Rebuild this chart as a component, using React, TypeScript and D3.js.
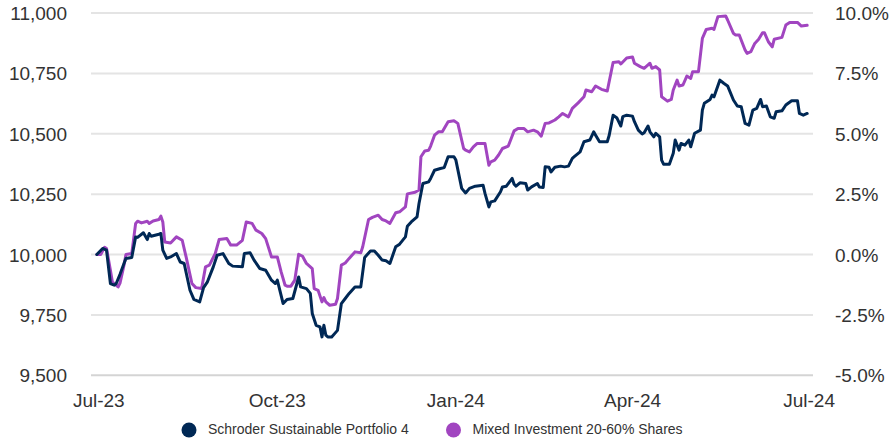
import React from "react";
import * as d3 from "d3";

const seriesNames = ["Schroder Sustainable Portfolio 4", "Mixed Investment 20-60% Shares"];
const leftTicks = [9500, 9750, 10000, 10250, 10500, 10750, 11000];
const rightTicks = [-5, -2.5, 0, 2.5, 5, 7.5, 10];
const xTickDates = ["2023-07-01", "2023-10-01", "2024-01-01", "2024-04-01", "2024-07-01"];

const schroder: [string, number][] = [
  ["2023-06-30", 10000], ["2023-07-03", 10025], ["2023-07-05", 10018], ["2023-07-07", 9880],
  ["2023-07-09", 9873], ["2023-07-10", 9880], ["2023-07-12", 9919], ["2023-07-14", 9963],
  ["2023-07-15", 9984], ["2023-07-18", 9988], ["2023-07-20", 10073], ["2023-07-21", 10071],
  ["2023-07-24", 10090], ["2023-07-26", 10062], ["2023-07-27", 10087], ["2023-07-28", 10076],
  ["2023-08-01", 10084], ["2023-08-02", 10087], ["2023-08-03", 10018], ["2023-08-05", 9984],
  ["2023-08-07", 9990], ["2023-08-10", 10004], ["2023-08-12", 9969], ["2023-08-14", 9963],
  ["2023-08-17", 9852], ["2023-08-19", 9814], ["2023-08-22", 9804], ["2023-08-24", 9863],
  ["2023-08-26", 9887], ["2023-08-29", 9949], ["2023-08-31", 9997], ["2023-09-03", 10004],
  ["2023-09-06", 9963], ["2023-09-08", 9952], ["2023-09-13", 9949], ["2023-09-14", 10004],
  ["2023-09-17", 10007], ["2023-09-19", 9977], ["2023-09-22", 9942], ["2023-09-25", 9935],
  ["2023-09-28", 9894], ["2023-09-30", 9880], ["2023-10-01", 9894], ["2023-10-04", 9797],
  ["2023-10-06", 9814], ["2023-10-09", 9818], ["2023-10-12", 9907], ["2023-10-13", 9866],
  ["2023-10-16", 9859], ["2023-10-18", 9839], ["2023-10-19", 9756], ["2023-10-21", 9707],
  ["2023-10-23", 9700], ["2023-10-24", 9659], ["2023-10-25", 9707], ["2023-10-26", 9666],
  ["2023-10-27", 9659], ["2023-10-29", 9659], ["2023-11-01", 9686], ["2023-11-03", 9797],
  ["2023-11-05", 9818], ["2023-11-07", 9839], ["2023-11-10", 9866], ["2023-11-13", 9866],
  ["2023-11-15", 9988], ["2023-11-18", 10015], ["2023-11-20", 10015], ["2023-11-22", 9997],
  ["2023-11-24", 9977], ["2023-11-26", 9974], ["2023-11-28", 9963], ["2023-12-01", 10032],
  ["2023-12-03", 10043], ["2023-12-06", 10073], ["2023-12-07", 10117], ["2023-12-09", 10135],
  ["2023-12-12", 10156], ["2023-12-13", 10211], ["2023-12-15", 10294], ["2023-12-18", 10301],
  ["2023-12-19", 10315], ["2023-12-21", 10349], ["2023-12-24", 10356], ["2023-12-26", 10360],
  ["2023-12-28", 10405], ["2023-12-31", 10405], ["2024-01-01", 10391], ["2024-01-04", 10274],
  ["2024-01-06", 10255], ["2024-01-08", 10274], ["2024-01-11", 10283], ["2024-01-15", 10287],
  ["2024-01-16", 10253], ["2024-01-18", 10197], ["2024-01-19", 10218], ["2024-01-21", 10222],
  ["2024-01-24", 10260], ["2024-01-25", 10280], ["2024-01-27", 10283], ["2024-01-30", 10315],
  ["2024-01-31", 10291], ["2024-02-01", 10283], ["2024-02-03", 10297], ["2024-02-06", 10294],
  ["2024-02-07", 10267], ["2024-02-09", 10280], ["2024-02-12", 10294], ["2024-02-13", 10280],
  ["2024-02-15", 10278], ["2024-02-16", 10363], ["2024-02-18", 10361], ["2024-02-19", 10342],
  ["2024-02-21", 10361], ["2024-02-24", 10366], ["2024-02-26", 10363], ["2024-02-28", 10366],
  ["2024-03-01", 10398], ["2024-03-02", 10405], ["2024-03-05", 10425], ["2024-03-07", 10467],
  ["2024-03-10", 10474], ["2024-03-12", 10508], ["2024-03-13", 10494], ["2024-03-15", 10467],
  ["2024-03-19", 10467], ["2024-03-20", 10494], ["2024-03-22", 10577], ["2024-03-24", 10565],
  ["2024-03-26", 10532], ["2024-03-27", 10571], ["2024-03-29", 10577], ["2024-04-01", 10573],
  ["2024-04-02", 10550], ["2024-04-04", 10515], ["2024-04-06", 10499], ["2024-04-07", 10504],
  ["2024-04-09", 10532], ["2024-04-10", 10508], ["2024-04-12", 10487], ["2024-04-13", 10502],
  ["2024-04-15", 10487], ["2024-04-16", 10391], ["2024-04-17", 10374], ["2024-04-20", 10374],
  ["2024-04-22", 10419], ["2024-04-23", 10474], ["2024-04-25", 10432], ["2024-04-26", 10460],
  ["2024-04-28", 10453], ["2024-04-30", 10474], ["2024-05-01", 10446], ["2024-05-03", 10502],
  ["2024-05-06", 10515], ["2024-05-07", 10598], ["2024-05-08", 10626], ["2024-05-11", 10642],
  ["2024-05-12", 10660], ["2024-05-13", 10653], ["2024-05-16", 10722], ["2024-05-18", 10709],
  ["2024-05-20", 10698], ["2024-05-23", 10640], ["2024-05-25", 10615], ["2024-05-27", 10612],
  ["2024-05-29", 10543], ["2024-05-31", 10536], ["2024-06-02", 10598], ["2024-06-04", 10605],
  ["2024-06-06", 10642], ["2024-06-07", 10612], ["2024-06-09", 10615], ["2024-06-11", 10570],
  ["2024-06-13", 10564], ["2024-06-14", 10591], ["2024-06-17", 10595], ["2024-06-19", 10619],
  ["2024-06-22", 10637], ["2024-06-25", 10637], ["2024-06-26", 10584], ["2024-06-28", 10577],
  ["2024-06-30", 10584],
];

const mixed: [string, number][] = [
  ["2023-06-30", 10000], ["2023-07-02", 10000], ["2023-07-04", 10030], ["2023-07-05", 10025],
  ["2023-07-07", 9935], ["2023-07-08", 9887], ["2023-07-09", 9880], ["2023-07-11", 9866],
  ["2023-07-12", 9883], ["2023-07-14", 9956], ["2023-07-15", 10000], ["2023-07-18", 10004],
  ["2023-07-20", 10129], ["2023-07-21", 10138], ["2023-07-23", 10131], ["2023-07-26", 10138],
  ["2023-07-27", 10129], ["2023-07-29", 10139], ["2023-08-01", 10145], ["2023-08-02", 10159],
  ["2023-08-03", 10135], ["2023-08-04", 10052], ["2023-08-07", 10048], ["2023-08-10", 10073],
  ["2023-08-13", 10059], ["2023-08-15", 9990], ["2023-08-18", 9880], ["2023-08-20", 9863],
  ["2023-08-23", 9859], ["2023-08-25", 9949], ["2023-08-27", 9956], ["2023-08-30", 10004],
  ["2023-09-01", 10062], ["2023-09-05", 10066], ["2023-09-07", 10039], ["2023-09-10", 10039],
  ["2023-09-13", 10059], ["2023-09-15", 10135], ["2023-09-18", 10129], ["2023-09-20", 10101],
  ["2023-09-23", 10087], ["2023-09-25", 10066], ["2023-09-28", 9990], ["2023-10-01", 9990],
  ["2023-10-03", 9927], ["2023-10-05", 9873], ["2023-10-06", 9869], ["2023-10-08", 9869],
  ["2023-10-10", 9894], ["2023-10-12", 10001], ["2023-10-14", 9993], ["2023-10-16", 9963],
  ["2023-10-19", 9942], ["2023-10-20", 9859], ["2023-10-22", 9852], ["2023-10-24", 9804],
  ["2023-10-25", 9822], ["2023-10-26", 9804], ["2023-10-28", 9790], ["2023-10-31", 9794],
  ["2023-11-01", 9818], ["2023-11-03", 9956], ["2023-11-05", 9965], ["2023-11-07", 9984],
  ["2023-11-10", 10011], ["2023-11-13", 10007], ["2023-11-14", 10032], ["2023-11-17", 10145],
  ["2023-11-19", 10154], ["2023-11-22", 10163], ["2023-11-24", 10145], ["2023-11-26", 10139],
  ["2023-11-28", 10129], ["2023-12-01", 10173], ["2023-12-03", 10177], ["2023-12-06", 10197],
  ["2023-12-07", 10251], ["2023-12-11", 10258], ["2023-12-13", 10267], ["2023-12-14", 10405],
  ["2023-12-16", 10429], ["2023-12-18", 10432], ["2023-12-19", 10449], ["2023-12-21", 10494],
  ["2023-12-23", 10508], ["2023-12-25", 10508], ["2023-12-28", 10550], ["2023-12-31", 10554],
  ["2024-01-02", 10543], ["2024-01-05", 10439], ["2024-01-06", 10432], ["2024-01-08", 10425],
  ["2024-01-10", 10446], ["2024-01-12", 10460], ["2024-01-16", 10460], ["2024-01-18", 10370],
  ["2024-01-19", 10384], ["2024-01-21", 10391], ["2024-01-23", 10412], ["2024-01-25", 10439],
  ["2024-01-28", 10449], ["2024-01-31", 10512], ["2024-02-02", 10522], ["2024-02-05", 10522],
  ["2024-02-07", 10508], ["2024-02-10", 10515], ["2024-02-12", 10508], ["2024-02-14", 10490],
  ["2024-02-16", 10543], ["2024-02-18", 10545], ["2024-02-21", 10557], ["2024-02-23", 10570],
  ["2024-02-25", 10584], ["2024-02-28", 10570], ["2024-03-01", 10605], ["2024-03-04", 10628],
  ["2024-03-07", 10653], ["2024-03-08", 10681], ["2024-03-11", 10674], ["2024-03-13", 10698],
  ["2024-03-16", 10684], ["2024-03-19", 10677], ["2024-03-22", 10795], ["2024-03-25", 10798],
  ["2024-03-26", 10789], ["2024-03-29", 10814], ["2024-04-01", 10818], ["2024-04-02", 10792],
  ["2024-04-05", 10778], ["2024-04-07", 10771], ["2024-04-10", 10792], ["2024-04-11", 10771],
  ["2024-04-13", 10778], ["2024-04-15", 10764], ["2024-04-16", 10653], ["2024-04-19", 10635],
  ["2024-04-21", 10642], ["2024-04-22", 10681], ["2024-04-24", 10722], ["2024-04-25", 10698],
  ["2024-04-27", 10702], ["2024-04-29", 10739], ["2024-05-01", 10729], ["2024-05-02", 10757],
  ["2024-05-05", 10757], ["2024-05-07", 10895], ["2024-05-09", 10932], ["2024-05-12", 10937],
  ["2024-05-13", 10932], ["2024-05-15", 10985], ["2024-05-19", 10988], ["2024-05-20", 10971],
  ["2024-05-23", 10916], ["2024-05-24", 10909], ["2024-05-26", 10909], ["2024-05-29", 10847],
  ["2024-05-30", 10833], ["2024-06-01", 10840], ["2024-06-03", 10874], ["2024-06-05", 10891],
  ["2024-06-07", 10918], ["2024-06-08", 10918], ["2024-06-10", 10881], ["2024-06-12", 10860],
  ["2024-06-13", 10891], ["2024-06-17", 10899], ["2024-06-19", 10950], ["2024-06-21", 10961],
  ["2024-06-25", 10961], ["2024-06-27", 10946], ["2024-06-30", 10949],
];

const NAVY = "#002855";
const PURPLE = "#a145c0";
const TEXT = "#333333";
const FONT = "'Liberation Sans', Arial, sans-serif";

export default function App() {
  const W = 893;
  const H = 442;
  const parse = d3.timeParse("%Y-%m-%d");
  const fmt = d3.timeFormat("%b-%y");

  const x = d3
    .scaleTime()
    .domain([parse("2023-06-27")!, parse("2024-07-03")!])
    .range([91, 813]);
  const y = d3.scaleLinear().domain([9500, 11000]).range([375.3, 13]);
  const yR = d3.scaleLinear().domain([-5, 10]).range([375.3, 13]);

  const line = d3
    .line<[string, number]>()
    .x((d) => x(parse(d[0])!))
    .y((d) => y(d[1]));

  const fmtLeft = d3.format(",");
  const fmtRight = (v: number) => `${v.toFixed(1)}%`;

  return (
    <svg
      width={W}
      height={H}
      style={{ position: "absolute", left: 0, top: 0, background: "#fff" }}
      fontFamily={FONT}
    >
      {leftTicks.map((t) => (
        <line
          key={"g" + t}
          x1={91}
          x2={813}
          y1={y(t)}
          y2={y(t)}
          stroke={t === 9500 ? "#d4d4d4" : "#e4e4e4"}
          strokeWidth={2}
        />
      ))}
      {leftTicks.map((t) => (
        <text
          key={"l" + t}
          x={67}
          y={y(t) + 2}
          textAnchor="end"
          dominantBaseline="middle"
          fontSize={19}
          fill={TEXT}
        >
          {fmtLeft(t)}
        </text>
      ))}
      {rightTicks.map((t) => (
        <text
          key={"r" + t}
          x={835}
          y={yR(t) + 2}
          textAnchor="start"
          dominantBaseline="middle"
          fontSize={19}
          fill={TEXT}
        >
          {fmtRight(t)}
        </text>
      ))}
      {xTickDates.map((d) => (
        <text
          key={"x" + d}
          x={x(parse(d)!)}
          y={407}
          textAnchor="middle"
          fontSize={19}
          fill={TEXT}
        >
          {fmt(parse(d)!)}
        </text>
      ))}
      <path
        d={line(mixed) || ""}
        fill="none"
        stroke={PURPLE}
        strokeWidth={3}
        strokeLinejoin="round"
        strokeLinecap="round"
      />
      <path
        d={line(schroder) || ""}
        fill="none"
        stroke={NAVY}
        strokeWidth={3}
        strokeLinejoin="round"
        strokeLinecap="round"
      />
      {seriesNames.map((name, i) => {
        const cx = i === 0 ? 189 : 453.5;
        return (
          <g key={name}>
            <circle cx={cx} cy={430} r={7.5} fill={i === 0 ? NAVY : PURPLE} />
            <text
              x={cx + 19}
              y={430}
              dominantBaseline="middle"
              fontSize={14}
              fill={TEXT}
            >
              {name}
            </text>
          </g>
        );
      })}
    </svg>
  );
}
